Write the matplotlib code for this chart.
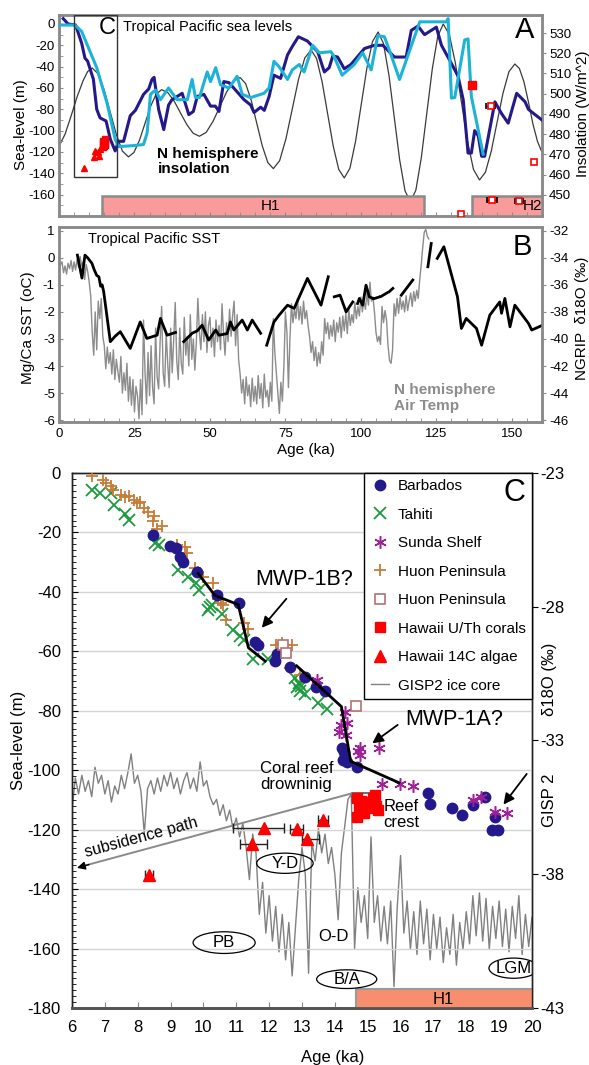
import numpy as np
import matplotlib
matplotlib.use("Agg")
import matplotlib.pyplot as plt
from matplotlib.patches import Rectangle, Ellipse
from matplotlib.ticker import MultipleLocator

plt.rcParams['font.family'] = ['Liberation Sans', 'DejaVu Sans']
plt.rcParams['axes.unicode_minus'] = False

# ======================= DATA =======================
# ---- Panel A: tropical Pacific sea levels (age ka, sea level m)
sl_record_dark = [(1.4,5),(3,0),(5.5,-1),(7.5,-18),(8.6,-32),(9.5,-35),(11.4,-52),(12.5,-80),(13.6,-88),
    (15.6,-91),(17,-108),(18.6,-119),(19.7,-110),(21.4,-110),(23.6,-86),(25.3,-81),(28,-66),(29.7,-61),
    (30.8,-52),(31.5,-50),(33,-80),(34.7,-99),(36.3,-76),(37.4,-71),(39.1,-68),(40.8,-65),(43,-85),
    (44.5,-82),(45.8,-68),(48,-66),(50.2,-77),(51.8,-77),(53,-82),(54.6,-54),(56.3,-55),(58.5,-62),
    (61.3,-71),(63.5,-76),(64.6,-83),(66.8,-78),(68,-81),(69.6,-68),(71.2,-48),(73.4,-51),(75.7,-29),
    (77.3,-21),(79.3,-12),(82.3,-16),(85.7,-26),(87.9,-45),(89.5,-41),(90.7,-30),(92.3,-31),(94.5,-42),
    (96.7,-38),(101.2,-23),(104.5,-20),(107.3,-20),(111.1,-31),(115,-31),(116.7,-6),(118.9,-2),
    (121.1,-10),(125,-3),(126.7,-20),(130,-37),(132.2,-49),(133.9,-71),(135.5,-121),(136.6,-121),
    (137.7,-100),(138.9,-105),(140,-124),(141,-124),(144.4,-73),(146.6,-84),(148.8,-93),(151.6,-65),
    (154.4,-73),(155.5,-80),(157.7,-85),(160,-90)]
sl_record_cyan = [(0,-1),(5.3,-1),(7.5,-7),(10.3,-26),(12.5,-41),(15.9,-74),(18.6,-108),(19.7,-115),
    (24.7,-114),(28,-113),(29.2,-102),(30.3,-66),(31.9,-62),(33.6,-71),(36.3,-60),(39.1,-71),(42.5,-71),
    (44.1,-52),(45.2,-69),(46.5,-69),(49.1,-45),(50.2,-54),(51.9,-41),(53.5,-57),(56.3,-60),(59,-49),
    (60.7,-66),(63.5,-69),(67.9,-65),(69.6,-60),(71.2,-35),(72.9,-40),(75.7,-52),(77.3,-43),(79.6,-38),
    (81.2,-45),(84,-20),(86.2,-27),(90.1,-26),(91.2,-31),(93.8,-48),(97.8,-38),(100.6,-27),(103.4,-43),
    (105.6,-11),(107.8,-12),(110,-29),(112.8,-52),(119.5,2),(128.3,2),(128.9,5),(130,-69.5),(131.1,-69),
    (134.4,-15),(135.5,-14),(136.6,-68),(140.5,-122)]
insolation = [(0,474),(2,480),(4,489),(6,498.5),(8,506.5),(9.5,511),(11,512.7),
    (13,509.8),(15,501.7),(17,490.8),(19,479.8),(21,471.7),(23,468.8),
    (24.83,471.0),(26.67,477.1),(28.5,485.4),(30.33,493.7),(32.17,499.8),(34,502),
    (36.08,500.5),(38.17,496.3),(40.25,490.5),(42.33,484.8),(44.42,480.5),(46.5,479),
    (48.75,480.9),(51,486.3),(53.25,493.5),(55.5,500.8),(57.75,506.1),(60,508),
    (61.83,505),(63.67,496.8),(65.5,485.5),(67.33,474.3),(69.17,466),(71,463),
    (73.08,466.9),(75.17,477.7),(77.25,492.3),(79.33,507),(81.42,517.7),(83.5,521.6),
    (85.33,517.4),(87.17,505.8),(89,490),(90.83,474.2),(92.67,462.6),(94.5,458.4),
    (96.37,463.2),(98.23,476.4),(100.1,494.5),(101.97,512.5),(103.83,525.7),(105.7,530.5),
    (107.48,524.9),(109.27,509.5),(111.05,488.5),(112.83,467.5),(114.62,452.1),(116.4,446.5),
    (118.22,452.4),(120.03,468.5),(121.85,490.5),(123.67,512.4),(125.48,528.5),(127.3,534.4),
    (129.3,529.2),(131.3,515.2),(133.3,495.9),(135.3,476.7),(137.3,462.6),(139.3,457.4),
    (141.25,461.2),(143.2,471.7),(145.15,486.1),(147.1,500.4),(149.05,510.9),(151,514.7),
    (152.5,512.5),(154,506),(155.5,496),(157,485),(158.5,476.5),(160,471)]
mis6_filled_age = [136.9]
mis6_filled_sl = [-57]
mis6_open_age = [143.0, 157.4, 133.1, 143.5, 152.3]
mis6_open_sl = [-76.6, -129.0, -178.0, -165.0, -166.0]
mis6_open_xerr = [1.4, 0.0, 0.0, 1.7, 1.4]

# ---- Panel B: Mg/Ca SST (oC anomaly) with gaps, and NGRIP d18O
sst_pts = [(6.1,0.1),(7.6,-0.75),(8.6,0.1),(9.5,0.0),(10.9,-0.2),(11.7,-0.45),(12.5,-0.65),(13.2,-0.7),
    (13.8,-1.05),(14.3,-1.0),(14.8,-1.25),(17.0,-3.1),(18.6,-2.9),(20.3,-2.73),(23.6,-3.35),(26.9,-2.37),
    (29.1,-2.98),(32.5,-2.86),(33.6,-2.24),(35.8,-2.86),(38.6,-2.76),(np.nan,np.nan),
    (41.3,-3.1),(44.1,-2.79),(45.8,-2.7),(47.4,-2.49),(49.6,-3.04),(51.9,-2.67),(53.0,-2.86),(55.7,-2.8),
    (56.8,-2.37),(57.9,-2.67),(60.7,-2.3),(62.4,-2.67),(64.0,-2.3),(66.8,-2.79),(np.nan,np.nan),
    (68.8,-3.23),(71.2,-2.37),(72.9,-2.12),(75.7,-1.75),(77.9,-1.87),(82.3,-0.76),(86.8,-1.75),(89.2,-0.7),
    (np.nan,np.nan),(91.2,-1.44),(93.1,-1.38),(95.1,-2.0),(97.3,-1.63),(np.nan,np.nan),
    (98.9,-1.69),(99.5,-1.5),(100.6,-1.75),(101.7,-1.01),(102.8,-1.44),(103.9,-1.5),(np.nan,np.nan),
    (104.6,-1.5),(106.0,-1.45),(np.nan,np.nan),(106.8,-1.42),(108.6,-1.3),(np.nan,np.nan),
    (109.4,-1.25),(110.6,-1.13),(np.nan,np.nan),(113.4,-1.38),(117.2,-0.82),(np.nan,np.nan),
    (122.2,-0.33),(123.3,0.53),(np.nan,np.nan),(125.3,-0.02),(127.5,0.41),(132.0,-1.44),(133.3,-2.61),
    (134.9,-2.24),(138.3,-2.61),(140.0,-3.23),(142.7,-2.12),(146.0,-1.63),(146.6,-2.05),(147.7,-1.5),
    (149.4,-2.55),(151.0,-1.75),(155.5,-2.42),(156.6,-2.67),(160.0,-2.5)]
ngrip_age = np.arange(0, 123, 0.5)
ngrip_d18o = [-35.0, -34.5, -34.3, -35.1, -34.6, -35.2, -34.4, -34.8, -34.2, -35.0,
    -34.3, -34.9, -34.1, -34.7, -33.9, -34.6, -34.3, -35.6, -34.5, -35.0,
    -35.8, -36.8, -39.5, -41.2, -38.0, -40.8, -37.2, -38.5, -37.0, -39.8,
    -40.5, -42.2, -40.6, -41.8, -41.0, -42.6, -40.8, -43.0, -41.5, -42.4,
    -43.2, -41.3, -44.0, -42.5, -43.8, -41.8, -44.6, -42.8, -44.9, -43.0,
    -45.4, -43.5, -44.2, -45.9, -43.0, -45.6, -38.6, -42.5, -44.8, -41.0,
    -44.2, -40.5, -43.6, -44.8, -39.2, -42.8, -43.7, -40.2, -37.6, -42.5,
    -43.5, -39.5, -41.8, -43.6, -39.2, -42.5, -40.0, -37.3, -41.6, -43.0,
    -39.2, -41.8, -42.6, -38.4, -41.2, -39.8, -42.0, -38.2, -41.5, -40.0,
    -42.3, -40.2, -37.0, -39.5, -40.8, -38.2, -40.2, -38.0, -41.0, -39.0,
    -38.4, -40.6, -39.2, -41.3, -38.6, -40.2, -39.0, -40.8, -37.4, -39.6,
    -41.2, -38.8, -40.2, -37.8, -39.8, -38.3, -37.2, -40.5, -38.2, -41.5,
    -42.6, -44.0, -43.0, -44.8, -42.8, -44.2, -43.4, -45.0, -42.9, -44.6,
    -43.5, -44.8, -42.7, -44.4, -43.3, -45.1, -42.6, -44.3, -43.8, -45.0,
    -43.2, -44.6, -38.5, -41.0, -42.5, -44.0, -45.5, -43.2, -44.6, -42.0,
    -38.0, -39.5, -43.6, -40.0, -37.4, -38.8, -37.8, -38.5, -37.0, -38.6,
    -37.6, -38.9, -37.2, -38.5, -37.9, -39.0, -39.8, -41.0, -40.2, -41.6,
    -40.6, -42.0, -41.0, -41.8, -40.2, -41.2, -38.5, -39.6, -38.8, -40.0,
    -39.0, -39.8, -38.6, -40.2, -38.8, -39.5, -38.4, -39.9, -38.3, -39.4,
    -38.1, -39.6, -37.8, -39.0, -38.2, -38.8, -37.3, -38.5, -37.6, -38.3,
    -36.9, -38.0, -37.1, -37.8, -36.6, -37.5, -35.8, -37.2, -36.9, -38.0,
    -39.5, -40.2, -39.8, -40.4, -37.6, -38.8, -37.9, -38.6, -40.5, -41.6,
    -41.8, -40.8, -37.4, -38.3, -37.0, -38.1, -36.9, -37.8, -37.2, -38.0,
    -36.8, -37.9, -37.2, -36.6, -37.6, -36.5, -37.2, -36.4, -37.0, -35.6,
    -34.5, -33.2, -32.1, -31.9, -32.4, -32.6]

# ---- Panel C: deglacial sea level (age ka, sea level m)
barbados_age = [8.47, 8.98, 9.18, 9.28, 9.39, 9.79, 10.4, 11.08, 11.58, 11.65, 12.18, 12.23, 12.64, 13.1,
    13.42, 13.7, 14.21, 14.26, 14.36, 14.28, 14.66, 16.84, 16.91, 17.55, 17.88, 18.19, 18.57, 18.87, 18.77, 18.97]
barbados_sl = [-20.9, -24.6, -25.4, -28.1, -29.8, -33.2, -41.0, -43.9, -56.8, -58.0, -63.3, -61.0, -65.3, -68.7,
    -72.0, -73.2, -92.6, -96.6, -97.1, -94.0, -98.8, -107.8, -111.4, -112.8, -115.1, -111.7, -109.1, -115.6, -120.1, -120.1]
tahiti_age = [6.6, 6.85, 7.2, 7.27, 7.6, 7.72, 8.53, 8.65, 9.24, 9.54, 9.78, 9.88, 10.2, 10.25, 10.15, 10.56,
    10.9, 11.1, 11.22, 11.52, 11.95, 12.78, 12.9, 12.84, 12.97, 12.94, 13.08, 13.5, 13.75]
tahiti_sl = [-5.7, -6.8, -6.8, -10.6, -13.9, -15.7, -23.6, -24.2, -32.6, -34.9, -37.0, -39.4, -45.0, -44.3, -46.2,
    -47.3, -52.8, -55.0, -56.3, -62.5, -62.7, -69.0, -70.5, -72.0, -71.5, -73.5, -74.5, -77.5, -79.3]
sunda_age = [13.45, 14.31, 14.36, 14.14, 14.34, 14.2, 14.75, 14.77, 14.7, 15.34, 15.44, 15.98, 16.39,
    18.19, 18.44, 18.87, 19.25]
sunda_sl = [-69.5, -80.3, -84.2, -87.0, -88.1, -84.8, -92.6, -94.9, -93.5, -92.6, -104.7, -104.7, -105.4,
    -110.1, -109.0, -114.0, -114.3]
huon_age = [6.62, 6.95, 7.05, 7.2, 7.25, 7.5, 7.62, 7.72, 7.9, 7.98, 8.08, 8.2, 8.32, 8.5, 8.48, 8.75, 8.6,
    9.2, 9.45, 9.5, 9.75, 9.82, 10.0, 10.3, 10.45, 10.55, 10.6, 10.7, 11.25, 11.37, 12.22, 12.38, 12.7,
    12.28, 12.63, 12.93]
huon_sl = [-0.9, -2.2, -3.5, -4.3, -5.8, -7.3, -8.0, -7.9, -9.0, -10.2, -9.6, -11.8, -13.0, -14.6, -16.0,
    -17.8, -18.8, -24.2, -25.0, -27.0, -32.0, -33.3, -35.0, -37.0, -42.5, -43.8, -44.4, -49.5, -50.6,
    -52.5, -57.8, -57.2, -57.8, -60.6, -65.7, -68.0]
huon_sq_age = [12.43, 12.5, 14.64]
huon_sq_sl = [-57.9, -60.5, -78.4]
hawaii_uth_age = [14.66, 14.8, 14.95, 15.15, 15.22, 15.26, 14.76, 14.9, 15.06, 14.66, 15.3, 14.72]
hawaii_uth_sl = [-109.5, -110.2, -110.8, -109.4, -108.2, -112.2, -113.4, -114.5, -112.8, -115.6, -113.3, -112.0]
hawaii_uth_xerr = [0.15, 0, 0, 0, 0, 0, 0, 0, 0.2, 0, 0, 0]
hawaii_14c_age = [8.35, 11.49, 11.84, 12.86, 13.16, 13.65]
hawaii_14c_sl = [-135.3, -124.9, -119.3, -119.9, -123.3, -116.8]
hawaii_14c_xerr_lo = [0.12, 0.38, 0.93, 0.23, 0.17, 0.15]
hawaii_14c_xerr_hi = [0.12, 0.45, 0.6, 0.16, 0.37, 0.15]
trend_1 = [(9.84,-33.8),(10.35,-41.2),(11.06,-44.3),(11.37,-58.8),(11.88,-63.3)]
trend_2 = [(12.84,-64.9),(14.2,-78.6),(14.48,-97.0),(15.95,-104.2)]
gisp2_age = np.arange(6.0, 20.05, 0.1)
gisp2_d18o = [-35.6, -34.4, -35.0, -34.3, -34.9, -34.5, -35.1, -34.0, -34.6, -34.3,
    -35.0, -34.5, -35.3, -34.7, -35.0, -34.3, -34.8, -34.2, -33.5, -34.6,
    -34.3, -34.9, -36.5, -34.8, -34.5, -35.0, -34.4, -34.9, -34.3, -34.7,
    -34.2, -34.8, -34.4, -35.0, -34.5, -34.2, -34.8, -34.4, -34.9, -33.8,
    -34.7, -34.5, -35.1, -35.4, -35.2, -35.8, -35.4, -36.0, -35.6, -36.3,
    -35.9, -36.6, -36.1, -37.0, -38.2, -36.5, -37.2, -39.5, -38.3, -40.2,
    -38.8, -40.5, -39.2, -40.9, -39.5, -41.2, -39.8, -41.8, -40.0, -38.2,
    -37.0, -38.0, -41.7, -36.8, -37.5, -36.3, -37.2, -36.5, -37.6, -37.0,
    -38.0, -39.7, -37.2, -36.2, -35.2, -35.0, -40.8, -38.5, -39.8, -38.8,
    -40.4, -36.6, -39.8, -38.8, -40.5, -39.2, -40.6, -39.0, -42.2, -39.2,
    -37.3, -40.2, -39.0, -40.8, -39.4, -41.0, -39.0, -40.6, -39.3, -41.2,
    -39.5, -40.8, -39.6, -41.3, -40.0, -41.0, -39.5, -41.4, -39.8, -40.8,
    -39.4, -40.6, -38.8, -40.3, -38.7, -40.5, -38.9, -40.8, -39.2, -40.4,
    -39.0, -40.7, -39.3, -40.9, -39.2, -40.4, -38.8, -41.0, -39.5, -40.7,
    -39.6]

# ======================= STYLE =======================
NAVY = '#24198a'
CYAN = '#1db3d8'
SPG = '#8a8a8a'
W, H = 589.0, 1065.0


def rect(l, t, r, b):
    return [l / W, 1 - b / H, (r - l) / W, (b - t) / H]


fig = plt.figure(figsize=(5.89, 10.65), dpi=100)

# ======================= PANEL A =======================
axA = fig.add_axes(rect(59, 15, 542, 216))
axA2 = axA.twinx()
axA.set_zorder(axA2.get_zorder() + 1)
axA.patch.set_visible(False)

ins = np.array(insolation).T
axA2.plot(ins[0], ins[1], color='#3a3a3a', lw=0.9)
axA2.set_ylim(439.6, 538.9)

axA.add_patch(Rectangle((14.4, -185), 106.6, 23.6, fc='#f99b9b', ec=SPG, lw=1.8, zorder=1))
axA.add_patch(Rectangle((136.9, -185), 30, 23.6, fc='#f99b9b', ec=SPG, lw=1.8, zorder=1))
axA.text(70, -171, 'H1', fontsize=11, ha='center', va='center')
axA.text(156.8, -171, 'H2', fontsize=11, ha='center', va='center')

d1 = np.array(sl_record_dark).T
d2 = np.array(sl_record_cyan).T
axA.plot(d1[0], d1[1], color=NAVY, lw=2.2, zorder=3)
axA.plot(d2[0], d2[1], color=CYAN, lw=2.2, zorder=4)

axA.add_patch(Rectangle((5, -143), 14.3, 151.4, fill=False, ec='#333333', lw=1.0, zorder=5))
axA.text(18.8, -4, 'C', fontsize=17, ha='right', va='center')

axA.plot(hawaii_14c_age, hawaii_14c_sl, ls='none', marker='^', color='red', ms=5, zorder=6)
axA.plot(hawaii_uth_age, hawaii_uth_sl, ls='none', marker='s', color='red', ms=5, zorder=6)
axA.plot(mis6_filled_age, mis6_filled_sl, ls='none', marker='s', color='red', ms=6, zorder=6)
axA.errorbar(mis6_open_age, mis6_open_sl, xerr=mis6_open_xerr, fmt='s', mfc='white', mec='red',
             mew=1.2, ms=5, ecolor='black', elinewidth=1, capsize=2, zorder=6)

axA.set_xlim(0, 160)
axA.set_ylim(-180, 8.4)
axA.set_yticks(range(-160, 1, 20))
axA.yaxis.set_minor_locator(MultipleLocator(10))
axA.set_xticks(range(0, 161, 25))
axA.xaxis.set_minor_locator(MultipleLocator(5))
axA.tick_params(axis='x', which='both', direction='in', labelbottom=False, length=3, color=SPG)
axA.tick_params(axis='y', which='both', direction='in', labelsize=9.5, pad=3, length=3, color=SPG)
axA2.set_yticks(range(450, 531, 10))
axA2.tick_params(direction='out', labelsize=9.5, length=3, pad=2, color=SPG)
for a in (axA, axA2):
    for s in a.spines.values():
        s.set_color(SPG)
        s.set_linewidth(1.8)

axA.set_ylabel('Sea-level (m)', fontsize=11, ha='center', va='center')
axA.yaxis.set_label_coords(-0.0797, 0.453)
axA2.set_ylabel('Insolation (W/m^2)', fontsize=11, ha='center', va='center')
axA2.yaxis.set_label_coords(1.084, 0.51)

axA.text(21.3, -2.8, 'Tropical Pacific sea levels', fontsize=10.5, ha='left', va='center')
axA.text(32.6, -129, 'N hemisphere\ninsolation', fontsize=11, fontweight='bold',
         ha='left', va='center', linespacing=1.15)
axA.text(154.4, -5.6, 'A', fontsize=21, ha='center', va='center')

# ======================= PANEL B =======================
axB = fig.add_axes(rect(59, 227, 542, 422))
axB2 = axB.twinx()
axB.set_zorder(axB2.get_zorder() + 1)
axB.patch.set_visible(False)

axB2.plot(ngrip_age, ngrip_d18o, color='#8c8c8c', lw=1.0)
axB2.set_ylim(-46.14, -31.72)
sst = np.array(sst_pts).T
axB.plot(sst[0], sst[1], color='black', lw=2.0)

axB.set_xlim(0, 160)
axB.set_ylim(-6.07, 1.14)
axB.set_yticks(range(-6, 2))
axB.set_xticks(range(0, 151, 25))
axB.xaxis.set_minor_locator(MultipleLocator(5))
axB.tick_params(axis='x', which='both', direction='in', labelsize=9.5, pad=4, length=3, color=SPG)
axB.tick_params(axis='y', which='both', direction='in', labelsize=9.5, pad=3, length=3, color=SPG)
axB2.set_yticks(range(-46, -31, 2))
axB2.tick_params(direction='out', labelsize=9.5, length=3, pad=2, color=SPG)
for a in (axB, axB2):
    for s in a.spines.values():
        s.set_color(SPG)
        s.set_linewidth(1.8)

axB.set_ylabel('Mg/Ca SST (oC)', fontsize=11, ha='center', va='center')
axB.yaxis.set_label_coords(-0.0636, 0.482)
axB2.set_ylabel('NGRIP  \u03b418O (\u2030)', fontsize=11, ha='center', va='center')
axB2.yaxis.set_label_coords(1.082, 0.533)
axB.set_xlabel('Age (ka)', fontsize=11, ha='center', va='center')
axB.xaxis.set_label_coords(0.511, -0.145)

axB.text(9.7, 0.71, 'Tropical Pacific SST', fontsize=10.5, ha='left', va='center')
axB.text(111, -5.19, 'N hemisphere\nAir Temp', fontsize=11, fontweight='bold', color='#8c8c8c',
         ha='left', va='center', linespacing=1.2)
axB.text(153.6, 0.4, 'B', fontsize=21, ha='center', va='center')

# ======================= PANEL C =======================
axC = fig.add_axes(rect(72, 473, 532, 1008))
axC2 = axC.twinx()
axC.set_zorder(axC2.get_zorder() + 1)
axC.patch.set_visible(False)

gisp_line, = axC2.plot(gisp2_age, gisp2_d18o, color='#808080', lw=1.0)
axC2.set_ylim(-43, -23)

axC.set_xlim(6, 20)
axC.set_ylim(-180, 0)
axC.yaxis.grid(True, color='#d4d4d4', lw=1.0)
axC.set_axisbelow(True)

axC.add_patch(Rectangle((14.63, -182), 6, 8.3, fc='#f78f6e', ec='#9a9a9a', lw=1.5, zorder=2))
axC.text(17.3, -177, 'H1', fontsize=12, ha='center', va='center', zorder=3)

# subsidence path
axC.plot([15.37, 14.51], [-107.8, -107.8], color='#555555', lw=1.2, zorder=3)
axC.plot([14.51, 6.25], [-107.8, -132.5], color='#8a8a8a', lw=1.4, zorder=3)
axC.annotate('', xy=(6.07, -133.1), xytext=(6.6, -131.5),
             arrowprops=dict(arrowstyle='-|>', color='black', lw=1.0, mutation_scale=12), zorder=4)
axC.text(8.1, -122.8, 'subsidence path', fontsize=11.5, rotation=15.2, ha='center', va='center',
         rotation_mode='anchor')

h_tah, = axC.plot(tahiti_age, tahiti_sl, ls='none', marker='x', color='#1b9a3e', ms=8, mew=1.3, zorder=5)
h_huon, = axC.plot(huon_age, huon_sl, ls='none', marker='+', color='#c77b38', ms=9, mew=1.3, zorder=5)
h_bar, = axC.plot(barbados_age, barbados_sl, ls='none', marker='o', color=NAVY, ms=7.5, zorder=6)
h_sun, = axC.plot(sunda_age, sunda_sl, ls='none', marker=(6, 2, 0), color='#a0209a', ms=9, mew=1.1, zorder=6)
h_hsq, = axC.plot(huon_sq_age, huon_sq_sl, ls='none', marker='s', mfc='white', mec='#b47272',
                  ms=7, mew=1.2, zorder=6)

t1 = np.array(trend_1).T
t2 = np.array(trend_2).T
axC.plot(t1[0], t1[1], color='black', lw=2, zorder=7)
axC.plot(t2[0], t2[1], color='black', lw=2, zorder=7)

axC.errorbar(hawaii_uth_age, hawaii_uth_sl, xerr=hawaii_uth_xerr, fmt='none', ecolor='#222222',
             elinewidth=1.0, capsize=3, zorder=7)
h_uth, = axC.plot(hawaii_uth_age, hawaii_uth_sl, ls='none', marker='s', color='red', ms=7.5, zorder=8)
axC.errorbar(hawaii_14c_age, hawaii_14c_sl, xerr=[hawaii_14c_xerr_lo, hawaii_14c_xerr_hi], fmt='none',
             ecolor='#222222', elinewidth=1.0, capsize=3.5, zorder=7)
h_14c, = axC.plot(hawaii_14c_age, hawaii_14c_sl, ls='none', marker='^', color='red', ms=8.5, zorder=8)

# annotations
arrow_kw = dict(arrowstyle='-|>', color='black', lw=1.3, mutation_scale=16)
axC.annotate('', xy=(11.72, -52.8), xytext=(12.58, -41.6), arrowprops=arrow_kw, zorder=9)
axC.annotate('', xy=(15.07, -91.5), xytext=(15.98, -84.2), arrowprops=arrow_kw, zorder=9)
axC.annotate('', xy=(19.08, -112.3), xytext=(19.89, -100.5), arrowprops=arrow_kw, zorder=9)
axC.text(11.57, -36, 'MWP-1B?', fontsize=15.5, ha='left', va='center')
axC.text(16.13, -82.9, 'MWP-1A?', fontsize=15.5, ha='left', va='center')
axC.text(11.72, -102, 'Coral reef\ndrowninig', fontsize=12, ha='left', va='center', linespacing=1.1)
axC.text(15.47, -115, 'Reef\ncrest', fontsize=12, ha='left', va='center', linespacing=1.1)

for (cx, cy, w, h, lab) in [(12.48, -131.3, 1.72, 6.8, 'Y-D'), (10.63, -158.0, 1.89, 7.3, 'PB'),
                            (14.36, -170.3, 1.83, 6.3, 'B/A'), (19.44, -166.6, 1.5, 6.8, 'LGM')]:
    axC.add_patch(Ellipse((cx, cy), w, h, fill=False, ec='black', lw=0.9, zorder=4))
    axC.text(cx, cy, lab, fontsize=12, ha='center', va='center', zorder=4)
axC.text(13.95, -155.8, 'O-D', fontsize=12, ha='center', va='center')

axC.set_xticks(range(6, 21))
axC.set_yticks(range(-180, 1, 20))
axC.yaxis.set_minor_locator(MultipleLocator(2))
axC.tick_params(axis='x', which='both', direction='in', labelsize=12, pad=9, length=4, color='#888888')
axC.tick_params(axis='y', which='both', direction='in', labelsize=12, pad=8, length=4)
axC.tick_params(axis='y', which='minor', length=3)
axC2.set_yticks(range(-43, -22, 5))
axC2.tick_params(direction='out', labelsize=12, length=4, pad=2)
for a in (axC, axC2):
    for s in a.spines.values():
        s.set_color('#222222')
        s.set_linewidth(1.0)
    a.spines['bottom'].set_color('#555555')
    a.spines['bottom'].set_linewidth(2.0)

axC.set_ylabel('Sea-level (m)', fontsize=12, ha='center', va='center')
axC.yaxis.set_label_coords(-0.117, 0.5)
axC.set_xlabel('Age (ka)', fontsize=12, ha='center', va='center')
axC.xaxis.set_label_coords(0.567, -0.0916)
axC2.text(1.039, 0.615, '\u03b418O (\u2030)', transform=axC2.transAxes, rotation=90, fontsize=12,
          ha='center', va='center')
axC2.text(1.039, 0.389, 'GISP 2', transform=axC2.transAxes, rotation=90, fontsize=12,
          ha='center', va='center')

leg = axC.legend([h_bar, h_tah, h_sun, h_huon, h_hsq, h_uth, h_14c, gisp_line],
                 ['Barbados', 'Tahiti', 'Sunda Shelf', 'Huon Peninsula', 'Huon Peninsula',
                  'Hawaii U/Th corals', 'Hawaii 14C algae', 'GISP2 ice core'],
                 loc='upper right', bbox_to_anchor=(1.0, 1.0), borderaxespad=0, fontsize=11,
                 frameon=True, fancybox=False, edgecolor='black', framealpha=1, labelspacing=0.95,
                 handlelength=1.2, handletextpad=0.6, borderpad=0.4)
leg.get_frame().set_linewidth(1.0)
leg.set_zorder(10)
axC.text(19.48, -6.7, 'C', fontsize=22, ha='center', va='center', zorder=20)

fig.savefig('out.png', dpi=100)
